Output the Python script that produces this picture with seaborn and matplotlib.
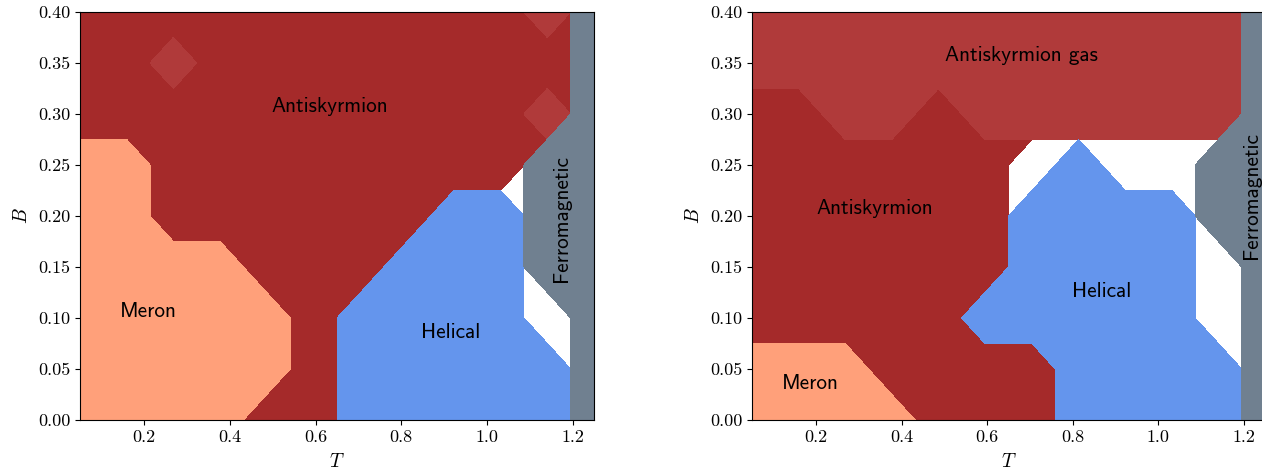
import numpy as np
import matplotlib
matplotlib.use("Agg")
import matplotlib.pyplot as plt
import seaborn as sns

sns.set_style("ticks", {"axes.edgecolor": "black", "xtick.color": "black", "ytick.color": "black",
                        "text.color": "black", "axes.labelcolor": "black"})
plt.rcParams['font.family'] = ['cmr10', 'DejaVu Serif']
plt.rcParams['mathtext.fontset'] = 'cm'
plt.rcParams['axes.unicode_minus'] = False

# grid of simulated points
T_vals = [0.05, 0.159, 0.268, 0.377, 0.486, 0.595, 0.705, 0.814, 0.923, 1.032, 1.141, 1.25]
B_vals = [0.0, 0.05, 0.1, 0.15, 0.2, 0.25, 0.3, 0.35, 0.4]

# phase at every grid point, rows from B=0.40 (top) down to B=0.00
# A antiskyrmion, G antiskyrmion gas, M meron, H helical, F ferromagnetic, X none
phases_left = [
    "AAAAAAAAAAGF",
    "AAGAAAAAAAAF",
    "AAAAAAAAAAGF",
    "MMAAAAAAAAFF",
    "MMAAAAAAHHFF",
    "MMMMAAAHHHFF",
    "MMMMMAHHHHXF",
    "MMMMMAHHHHHF",
    "MMMMAAHHHHHF",
]
phases_right = [
    "GGGGGGGGGGGF",
    "GGGGGGGGGGGF",
    "AAGGAGGGGGGF",
    "AAAAAAXHXXFF",
    "AAAAAAHHHHFF",
    "AAAAAAHHHHXF",
    "AAAAAHHHHHXF",
    "MMMAAAAHHHHF",
    "MMMMAAAHHHHF",
]

labels_left = [
    ("Antiskyrmion", 0.634, 0.307, 0),
    ("Meron", 0.209, 0.106, 0),
    ("Helical", 0.915, 0.086, 0),
    ("Ferromagnetic", 1.173, 0.198, 90),
]
labels_right = [
    ("Antiskyrmion gas", 0.681, 0.357, 0),
    ("Antiskyrmion", 0.338, 0.207, 0),
    ("Helical", 0.868, 0.126, 0),
    ("Meron", 0.186, 0.036, 0),
    ("Ferromagnetic", 1.219, 0.22, 90),
]

layers = [
    ("AG", "brown"),
    ("G", "#b03a3a"),
    ("M", "lightsalmon"),
    ("H", "cornflowerblue"),
    ("F", "slategray"),
]


def draw_panel(ax, rows, labels):
    grid = np.array([list(r) for r in rows[::-1]])
    TT, BB = np.meshgrid(T_vals, B_vals)
    for codes, color in layers:
        z = np.isin(grid, list(codes)).astype(float)
        ax.contourf(TT, BB, z, levels=[0.5, 1.5], colors=[color])
    for s, t, b, rot in labels:
        ax.text(t, b, s, ha='center', va='center', rotation=rot,
                fontfamily='cmss10', fontsize=15.3, color='black')
    ax.set_xlim(0.05, 1.25)
    ax.set_ylim(0.0, 0.4)
    ax.set_xticks([0.2, 0.4, 0.6, 0.8, 1.0, 1.2])
    ax.set_xticklabels(["0.2", "0.4", "0.6", "0.8", "1.0", "1.2"])
    ax.set_yticks(B_vals)
    ax.set_yticklabels(["%.2f" % b for b in B_vals])
    ax.tick_params(labelsize=13, colors='black')
    ax.set_xlabel('$T$', fontsize=14, labelpad=6)
    ax.set_ylabel('$B$', fontsize=14, labelpad=5)


fig = plt.figure(figsize=(12.62, 4.69), dpi=100)
ax1 = fig.add_axes([80 / 1262, 49 / 469, 514 / 1262, 408 / 469])
ax2 = fig.add_axes([752 / 1262, 49 / 469, 513 / 1262, 408 / 469])
draw_panel(ax1, phases_left, labels_left)
draw_panel(ax2, phases_right, labels_right)

fig.savefig("out.png", dpi=100)
